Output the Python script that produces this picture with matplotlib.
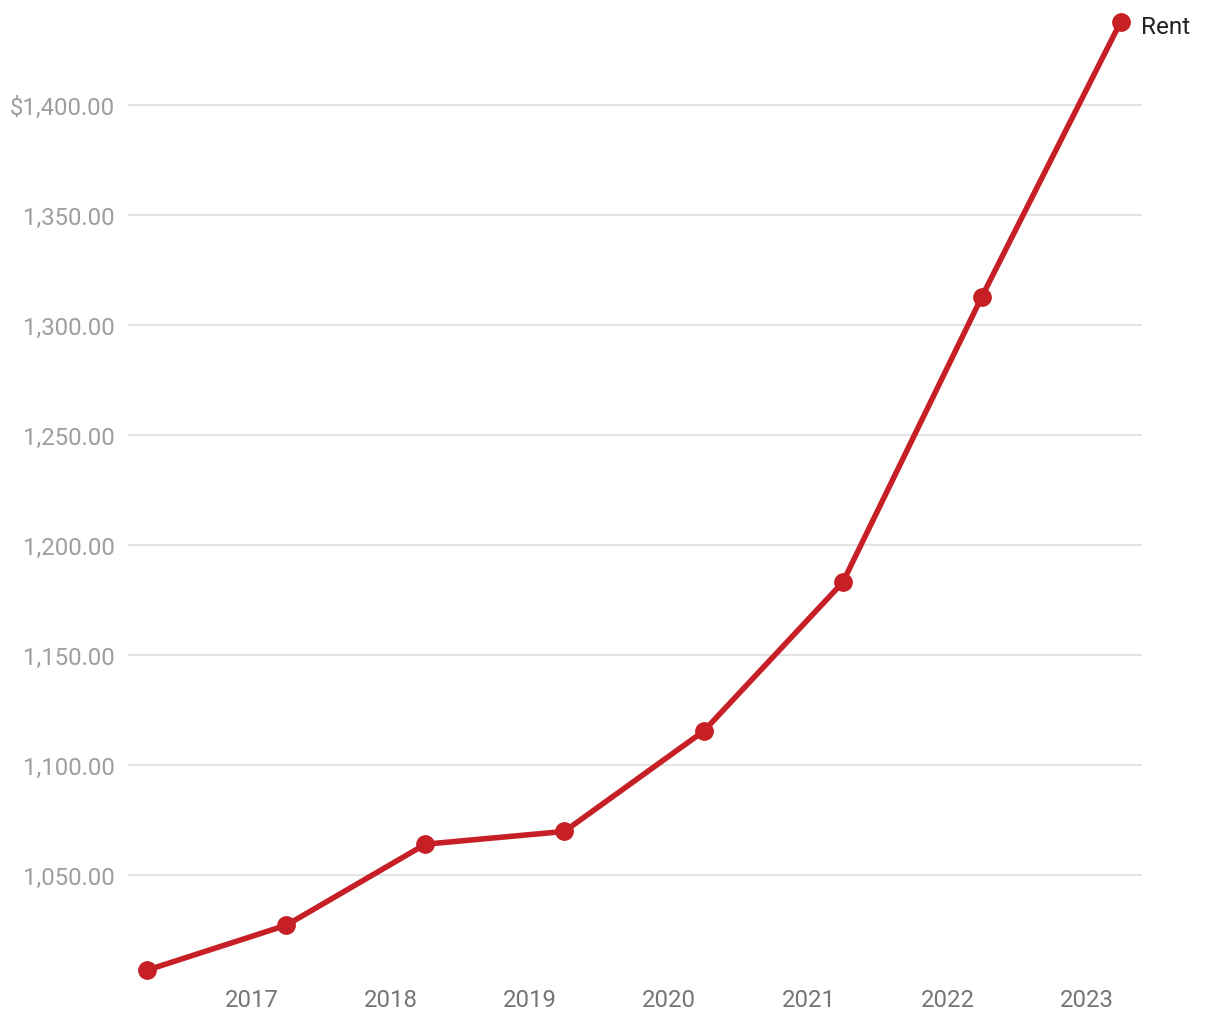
import matplotlib
matplotlib.use("Agg")
import matplotlib.pyplot as plt
import matplotlib.dates as mdates
from datetime import datetime

dates = ["2016-04-01", "2017-04-01", "2018-04-01", "2019-04-01",
         "2020-04-01", "2021-04-01", "2022-04-01", "2023-04-01"]
rent = [1006.8, 1027.2, 1064.0, 1069.8, 1115.4, 1183.0, 1312.7, 1437.8]
series_name = "Rent"
y_ticks = [1050, 1100, 1150, 1200, 1250, 1300, 1350, 1400]
x_years = [2017, 2018, 2019, 2020, 2021, 2022, 2023]

plt.rcParams['font.family'] = ['Roboto', 'DejaVu Sans']

x = [datetime.strptime(d, "%Y-%m-%d") for d in dates]

fig = plt.figure(figsize=(12.2, 10.2), dpi=100)
W, H = 1220, 1020
ax = fig.add_axes([128 / W, (H - 986) / H, (1142 - 128) / W, (986 - 18) / H])

color = "#c62026"
ax.plot(x, rent, color=color, lw=4.0, marker="o", markersize=12.5,
        clip_on=False, zorder=3, solid_joinstyle="round")

ax.set_ylim(1000, 1440)
ax.set_xlim(datetime(2016, 2, 10), datetime(2023, 5, 27))

ax.set_yticks(y_ticks)
ax.set_yticklabels([("$" if v == y_ticks[-1] else "") + f"{v:,.2f}" for v in y_ticks])
ax.set_xticks([datetime(y, 1, 1) for y in x_years])
ax.set_xticklabels([str(y) for y in x_years])

ax.grid(axis="y", color="#e3e3e3", lw=1.4)
ax.set_axisbelow(True)
for s in ax.spines.values():
    s.set_visible(False)
ax.tick_params(axis="y", length=0, pad=9.4, labelsize=17.2, labelcolor="#9e9e9e")
ax.tick_params(axis="x", length=0, pad=2, labelsize=17.2, labelcolor="#757575")

ax.annotate(series_name, xy=(x[-1], rent[-1]), xytext=(20, -5), textcoords="offset pixels",
            va="center", ha="left", fontsize=17.5, color="#212121")

fig.savefig("out.png", dpi=100)
